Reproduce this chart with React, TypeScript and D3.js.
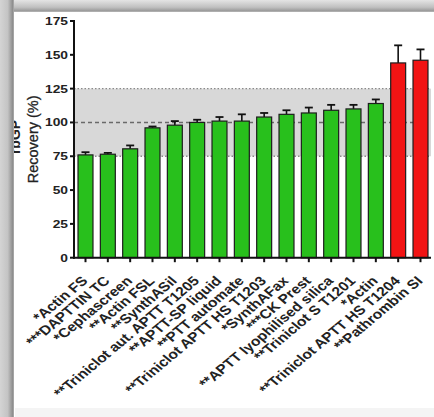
import React from "react";
import * as d3 from "d3";

const categories = [
  "*Actin FS",
  "***DAPTTIN TC",
  "*Cephascreen",
  "**Actin FSL",
  "**SynthASil",
  "**Triniclot aut. APTT T1205",
  "**APTT-SP liquid",
  "**PTT automate",
  "**Triniclot APTT HS T1203",
  "*SynthAFax",
  "***CK Prest",
  "**APTT lyophilised silica",
  "**Triniclot S T1201",
  "*Actin",
  "**Triniclot APTT HS T1204",
  "**Pathrombin SI",
];
const values = [76, 76.5, 80.5, 96, 98, 100, 101, 101, 104, 106, 107, 109, 110, 114, 144, 146];
const errors = [2, 1, 2.5, 1, 3, 2, 3, 5, 3, 3, 4, 4, 3, 3, 13, 8];
const isRed = [false, false, false, false, false, false, false, false, false, false, false, false, false, false, true, true];
const yTicks = [0, 25, 50, 75, 100, 125, 150, 175];
const bandRange = [75, 125];

const W = 434;
const H = 417;

export default function App() {
  const y = d3.scaleLinear().domain([0, 175]).range([257.7, 21]);
  const x = d3
    .scaleBand<string>()
    .domain(categories)
    .range([76.9, 429.1])
    .paddingInner(0.33)
    .paddingOuter(0.05);
  const axisX = 74;
  const axisY = y(0);
  const right = 431;
  const font = "'Liberation Sans', Arial, sans-serif";
  const sx = 1.2;

  return (
    <svg width={W} height={H} style={{ display: "block", position: "absolute", left: 0, top: 0 }}>
      <defs>
        <linearGradient id="leftG" x1="0" x2="1" y1="0" y2="0">
          <stop offset="0" stopColor="#d4d4d4" />
          <stop offset="0.55" stopColor="#c4c4c4" />
          <stop offset="0.9" stopColor="#8e8e8e" />
          <stop offset="1" stopColor="#b0b0b0" />
        </linearGradient>
        <linearGradient id="topG" x1="0" x2="0" y1="0" y2="1">
          <stop offset="0" stopColor="#e4e4e4" />
          <stop offset="0.6" stopColor="#c0c0c0" />
          <stop offset="0.9" stopColor="#9a9a9a" />
          <stop offset="1" stopColor="#bdbdbd" />
        </linearGradient>
      </defs>
      <rect x={0} y={0} width={W} height={H} fill="#ffffff" />
      <rect x={15} y={408} width={W - 15} height={H - 408} fill="#f4f4f4" />

      {/* reference band */}
      <rect
        x={axisX + 1}
        y={y(bandRange[1])}
        width={right - axisX - 1}
        height={y(bandRange[0]) - y(bandRange[1])}
        fill="#d8d8d8"
      />
      <line x1={axisX} x2={right} y1={y(125)} y2={y(125)} stroke="#8a8a8a" strokeWidth={1.3} strokeDasharray="1.5,2" />
      <line x1={axisX} x2={right} y1={y(75)} y2={y(75)} stroke="#8a8a8a" strokeWidth={1.3} strokeDasharray="1.5,2" />
      <line x1={axisX} x2={right} y1={y(100)} y2={y(100)} stroke="#6a6a6a" strokeWidth={1.6} strokeDasharray="4,3" />

      {/* bars */}
      {categories.map((c, i) => {
        const bx = x(c)!;
        const bw = x.bandwidth();
        const cx = bx + bw / 2;
        const top = y(values[i]);
        const et = y(values[i] + errors[i]);
        return (
          <g key={c}>
            <line x1={cx} x2={cx} y1={top} y2={et} stroke="#111" strokeWidth={1.6} />
            <line x1={cx - 4} x2={cx + 4} y1={et} y2={et} stroke="#111" strokeWidth={1.8} />
            <rect
              x={bx}
              y={top}
              width={bw}
              height={axisY - top}
              fill={isRed[i] ? "#f21414" : "#28c01c"}
              stroke="#1d1d1d"
              strokeWidth={1.2}
            />
          </g>
        );
      })}

      {/* axes */}
      <line x1={axisX} x2={axisX} y1={y(175) - 1} y2={axisY + 1} stroke="#111" strokeWidth={2} />
      <line x1={axisX - 1} x2={right} y1={axisY} y2={axisY} stroke="#111" strokeWidth={2} />
      {yTicks.map((t) => (
        <g key={t}>
          <line x1={axisX - 4} x2={axisX} y1={y(t)} y2={y(t)} stroke="#111" strokeWidth={2} />
          <text
            transform={`translate(${axisX - 6},${y(t) + 4}) scale(${sx},1)`}
            textAnchor="end"
            fontFamily={font}
            fontWeight="bold"
            fontSize={11.5}
            fill="#222"
          >
            {t}
          </text>
        </g>
      ))}
      {categories.map((c) => {
        const cx = x(c)! + x.bandwidth() / 2;
        return (
          <g key={"l" + c}>
            <line x1={cx} x2={cx} y1={axisY} y2={axisY + 4.5} stroke="#111" strokeWidth={2} />
            <text
              transform={`translate(${cx + 3},${axisY + 24}) scale(${sx},1) rotate(-45)`}
              textAnchor="end"
              fontFamily={font}
              fontWeight="bold"
              fontSize={13}
              fill="#222"
            >
              {c}
            </text>
          </g>
        );
      })}

      {/* y titles */}
      <text
        transform={`translate(38,${(y(0) + y(175)) / 2}) rotate(-90)`}
        textAnchor="middle"
        fontFamily={font}
        fontSize={14.5}
        fill="#222"
        stroke="#222"
        strokeWidth={0.3}
      >
        Recovery (%)
      </text>
      <text
        transform={`translate(19.5,137) rotate(-90)`}
        textAnchor="middle"
        fontFamily={font}
        fontWeight="bold"
        fontSize={14}
        fill="#222"
      >
        rbGP
      </text>

      {/* frame */}
      <rect x={0} y={0} width={W} height={12} fill="url(#topG)" />
      <rect x={0} y={0} width={14} height={H} fill="url(#leftG)" />
    </svg>
  );
}
